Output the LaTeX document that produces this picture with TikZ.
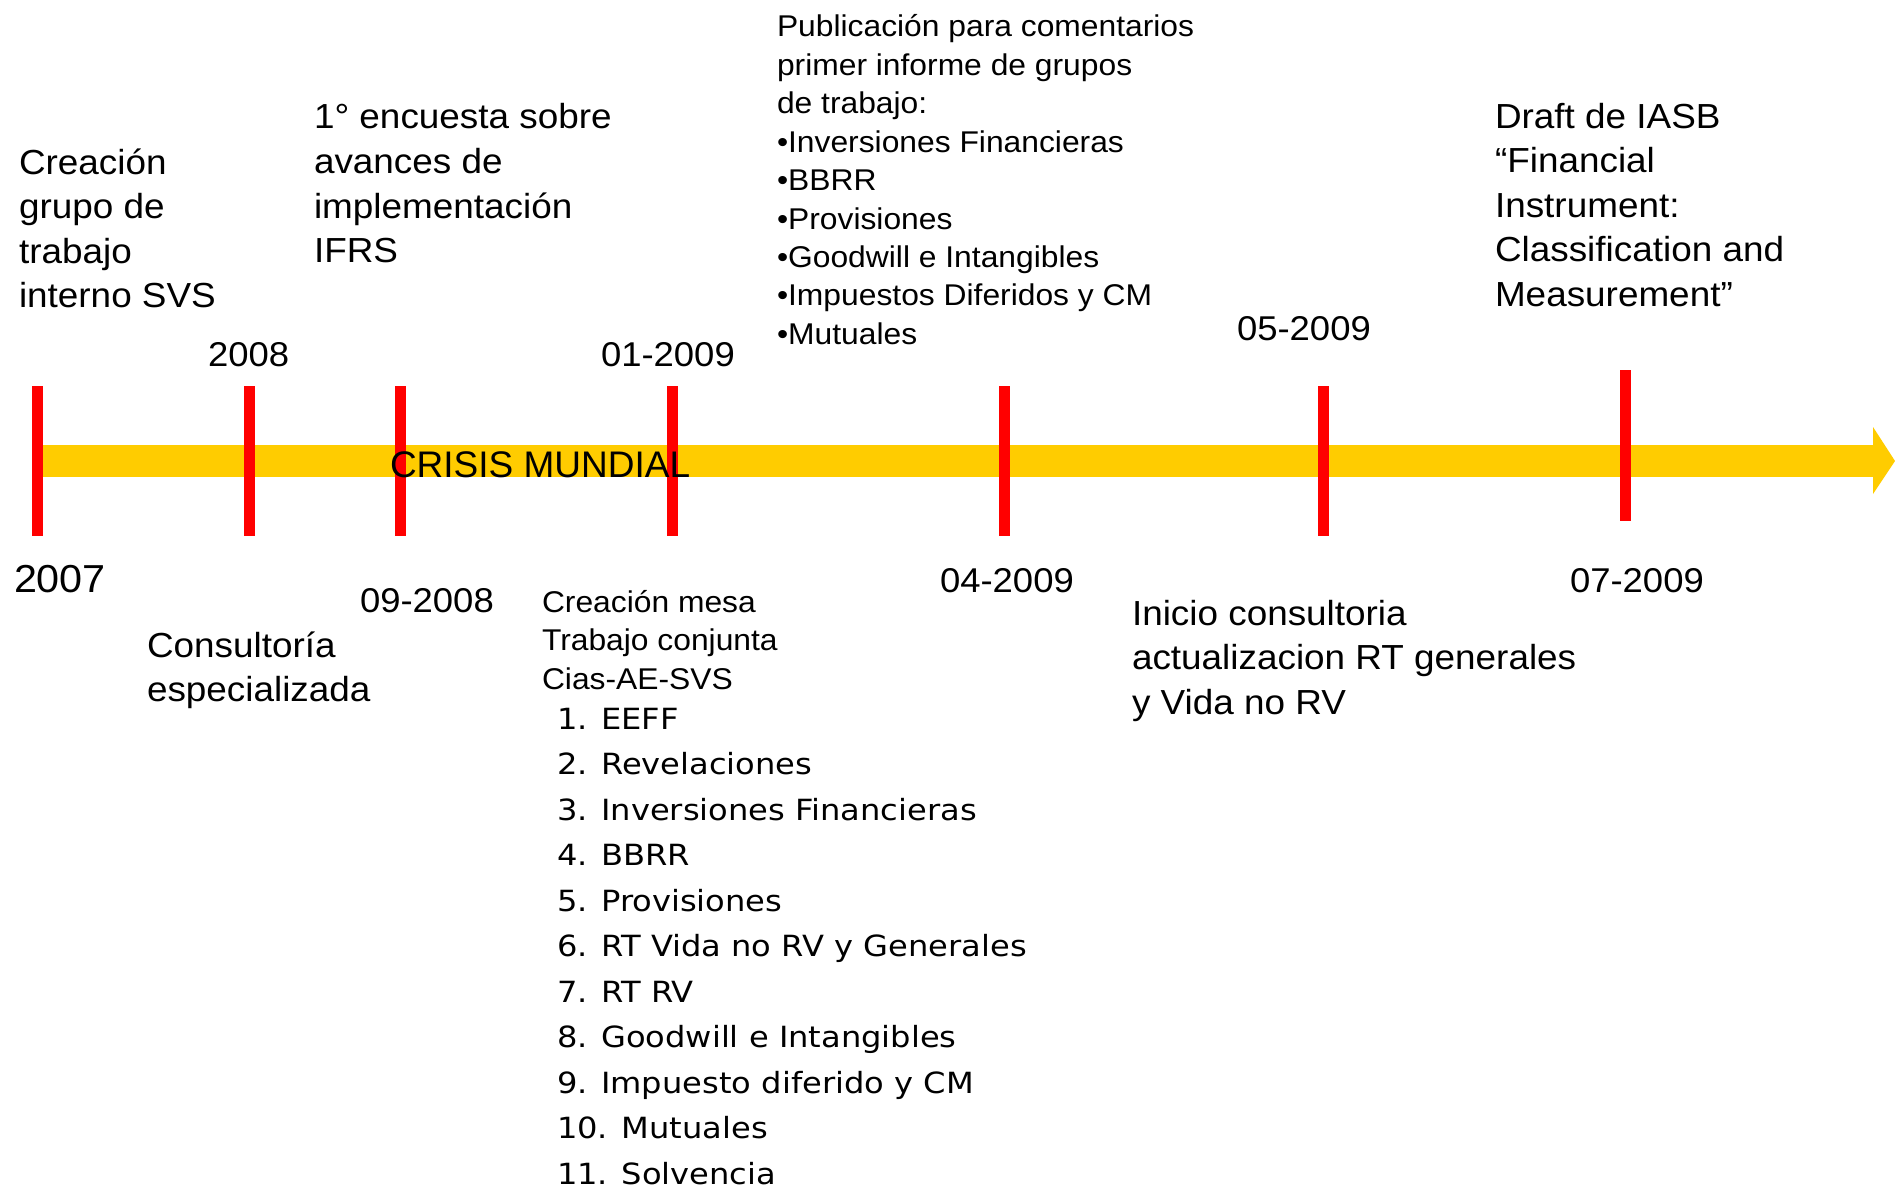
\documentclass[tikz,border=0pt]{standalone}
\usepackage{fontspec}
\setmainfont{Liberation Sans}
\newfontfamily\widefnt[FakeStretch=1.06]{Liberation Sans}
\newfontfamily\verdfnt[FakeStretch=1.1]{DejaVu Sans}
\definecolor{barY}{HTML}{FFCC00}
\definecolor{tickR}{HTML}{FF0000}
\begin{document}
\begin{tikzpicture}[x=0.5pt,y=-0.5pt,
  txt/.style={anchor=base west,inner sep=0pt,outer sep=0pt},
  bigtxt/.style={txt,font=\widefnt\fontsize{17.4pt}{20pt}\selectfont},
  datetxt/.style={txt,font=\widefnt\fontsize{17.2pt}{20pt}\selectfont},
  smalltxt/.style={txt,font=\widefnt\fontsize{15pt}{17pt}\selectfont},
  lsttxt/.style={txt,font=\verdfnt\fontsize{14.6pt}{17pt}\selectfont},
  tickbar/.style={fill=tickR},
]
\useasboundingbox (0,0) rectangle (1895,1188);
\fill[white] (0,0) rectangle (1895,1188);

% main arrow
\fill[barY] (37,445) rectangle (1874,477);
\fill[barY] (1873,427) -- (1895,461) -- (1873,494) -- cycle;

% ticks
\foreach \c in {37,249,400,672,1004,1323}
  \fill[tickbar] ({\c-5.5},386) rectangle ({\c+5.5},536);
\fill[tickbar] (1620,370) rectangle (1631,521);

\node[txt,font=\fontsize{18.5pt}{22pt}\selectfont] (crisis) at (390,477) {CRISIS MUNDIAL};

% dates
\node[txt,font=\widefnt\fontsize{19.5pt}{23pt}\selectfont] (d2007) at (14,592) {2007};
\node[datetxt] (d2008) at (208,366) {2008};
\node[datetxt] (d0908) at (360,612) {09-2008};
\node[datetxt] (d0109) at (601,366) {01-2009};
\node[datetxt] (d0409) at (940,592) {04-2009};
\node[datetxt] (d0509) at (1237,340) {05-2009};
\node[datetxt] (d0709) at (1570,592) {07-2009};

% block A
\foreach \t [count=\i] in {Creación,grupo de,trabajo,interno SVS}
  \node[bigtxt] (ba\i) at (19,{174+44.5*(\i-1)}) {\t};
% block B
\foreach \t [count=\i] in {1° encuesta sobre,avances de,implementación,IFRS}
  \node[bigtxt] (bb\i) at (314,{129+44.5*(\i-1)}) {\t};
% Draft block
\foreach \t [count=\i] in {Draft de IASB,“Financial,Instrument:,Classification and,Measurement”}
  \node[bigtxt] (bd\i) at (1495,{128+44.5*(\i-1)}) {\t};
% Consultoria
\foreach \t [count=\i] in {Consultoría,especializada}
  \node[bigtxt] (bc\i) at (147,{657+44.5*(\i-1)}) {\t};
% Inicio consultoria
\foreach \t [count=\i] in {Inicio consultoria,actualizacion RT generales,y Vida no RV}
  \node[bigtxt] (bi\i) at (1132,{625+44.5*(\i-1)}) {\t};
% Publicacion block
\foreach \t [count=\i] in {Publicación para comentarios,primer informe de grupos,de trabajo:,•Inversiones Financieras,•BBRR,•Provisiones,•Goodwill e Intangibles,•Impuestos Diferidos y CM,•Mutuales}
  \node[smalltxt] (bp\i) at (777,{37+38.4*(\i-1)}) {\t};
% Creacion mesa block
\foreach \t [count=\i] in {Creación mesa,Trabajo conjunta,Cias-AE-SVS}
  \node[smalltxt] (bm\i) at (542,{612+38.7*(\i-1)}) {\t};
% numbered list
\foreach \t [count=\i] in {1. EEFF,2. Revelaciones,3. Inversiones Financieras,4. BBRR,5. Provisiones,6. RT Vida no RV y Generales,7. RT RV,8. Goodwill e Intangibles,9. Impuesto diferido y CM,10. Mutuales,11. Solvencia}
  \node[lsttxt] (bl\i) at (557,{729+45.5*(\i-1)}) {\t};
\end{tikzpicture}
\end{document}
